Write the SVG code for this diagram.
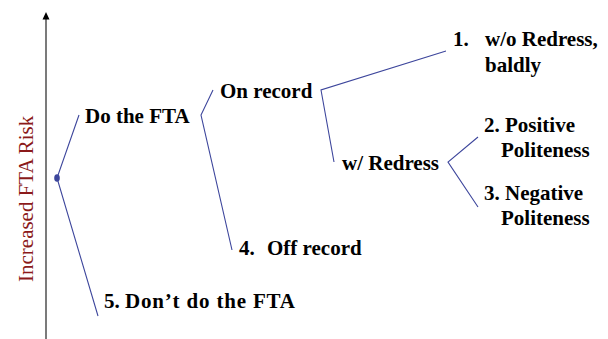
<svg xmlns="http://www.w3.org/2000/svg" width="608" height="339" viewBox="0 0 608 339">
  <style>
    .lbl { font-family: 'Liberation Serif', serif; font-weight: bold; font-size: 21px; fill: #000; }
    .axislbl { font-family: 'Liberation Serif', serif; font-size: 21px; fill: #8B1A1A; }
    .conn { fill: none; stroke: #3D469C; stroke-width: 1.1; }
  </style>

  <g id="axis">
    <line x1="46" y1="339" x2="46" y2="19" stroke="#5a5a5a" stroke-width="1.6"/>
    <path d="M42.5,19.5 L46,12 L49.5,19.5 Z" fill="#000"/>
    <text class="axislbl" transform="translate(33,282) rotate(-90)">Increased FTA Risk</text>
  </g>

  <g id="connectors">
    <polyline class="conn" points="79,115 57,178 98,316"/>
    <polyline class="conn" points="213,90 201,115 232,250"/>
    <polyline class="conn" points="446,51 321,90 334,162"/>
    <polyline class="conn" points="478,137 448,162 478,207"/>
  </g>

  <g id="root">
    <ellipse cx="57" cy="178" rx="2.8" ry="3.8" fill="#3D469C"/>
  </g>

  <g id="do-fta">
    <text class="lbl" x="85" y="123">Do the FTA</text>
  </g>

  <g id="on-record">
    <text class="lbl" x="220" y="98">On record</text>
  </g>

  <g id="without-redress">
    <text class="lbl" x="453" y="46">1.</text>
    <text class="lbl" x="485" y="46">w/o Redress,</text>
    <text class="lbl" x="485" y="72">baldly</text>
  </g>

  <g id="with-redress">
    <text class="lbl" x="342" y="170">w/ Redress</text>
  </g>

  <g id="positive">
    <text class="lbl" x="484" y="132">2. Positive</text>
    <text class="lbl" x="501" y="157">Politeness</text>
  </g>

  <g id="negative">
    <text class="lbl" x="484" y="200">3. Negative</text>
    <text class="lbl" x="501" y="225">Politeness</text>
  </g>

  <g id="off-record">
    <text class="lbl" x="239" y="255">4.</text>
    <text class="lbl" x="267" y="255">Off record</text>
  </g>

  <g id="dont-do">
    <text class="lbl" x="104" y="308">5.</text>
    <text class="lbl" x="125" y="308" textLength="170">Don’t do the FTA</text>
  </g>
</svg>
